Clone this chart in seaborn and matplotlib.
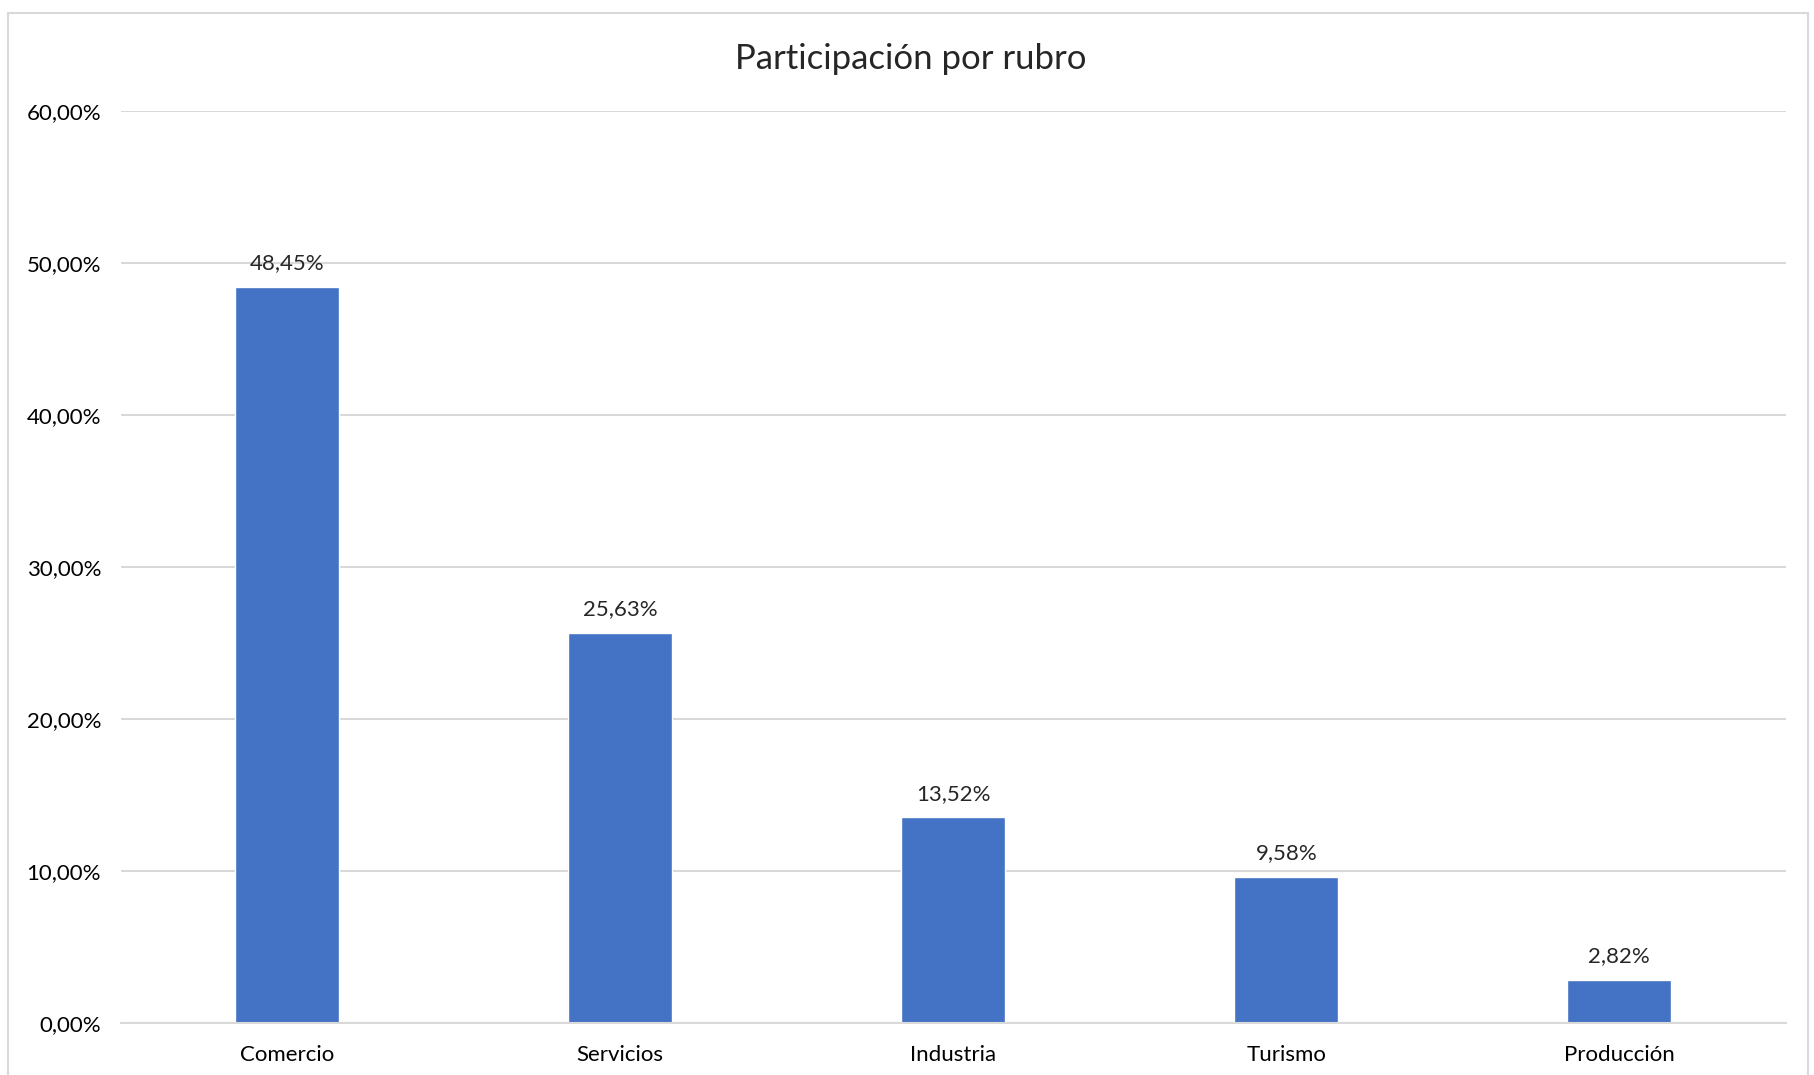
import numpy as np
import pandas as pd
import matplotlib
matplotlib.use('Agg')
import matplotlib.pyplot as plt
import seaborn as sns
from matplotlib.patches import Rectangle

rubros = ['Comercio', 'Servicios', 'Industria', 'Turismo', 'Producción']
participacion = [48.45, 25.63, 13.52, 9.58, 2.82]
yticks = [0, 10, 20, 30, 40, 50, 60]

df = pd.DataFrame({'rubro': rubros, 'pct': participacion})

sns.set_theme(style='white')
plt.rcParams['font.family'] = ['Lato', 'DejaVu Sans']

fig = plt.figure(figsize=(18.14, 10.75), dpi=100)
ax = fig.add_axes([0.0665, 0.0484, 0.918, 0.8483])

sns.barplot(data=df, x='rubro', y='pct', color='#4472C4', width=0.313,
            saturation=1, ax=ax)

ax.set_ylim(0, 60)
ax.set_xlim(-0.5, 4.5)
ax.set_yticks(yticks)
ax.set_yticklabels([f'{v:.2f}'.replace('.', ',') + '%' for v in yticks])
ax.yaxis.grid(True, color='#d9d9d9', linewidth=1.5)
ax.set_axisbelow(True)
for s in ['top', 'right', 'left']:
    ax.spines[s].set_visible(False)
ax.spines['bottom'].set_color('#d9d9d9')
ax.spines['bottom'].set_linewidth(1.5)
ax.tick_params(axis='both', length=0, labelsize=16, colors='#000000')
ax.tick_params(axis='y', pad=14)
ax.tick_params(axis='x', pad=16)
ax.set_xlabel('')
ax.set_ylabel('')

for i, v in enumerate(participacion):
    ax.annotate(f'{v:.2f}'.replace('.', ',') + '%', (i, v), xytext=(0, 10),
                textcoords='offset points', ha='center', va='bottom', fontsize=16)

fig.text(0.502, 0.945, 'Participación por rubro', ha='center', va='center', fontsize=25)

fig.patches.append(Rectangle((0.0044, -0.01), 0.9923, 0.998, transform=fig.transFigure,
                             fill=False, edgecolor='#d9d9d9', linewidth=1.5))

fig.savefig('out.png', dpi=100)
